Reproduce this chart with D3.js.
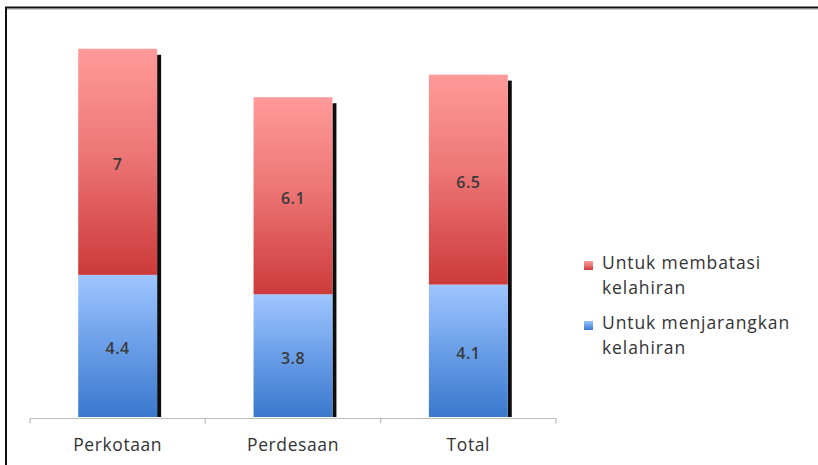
<!DOCTYPE html>
<html>
<head>
<meta charset="utf-8">
<script src="https://cdn.jsdelivr.net/npm/d3@7/dist/d3.min.js"></script>
<style>
  html, body { margin: 0; padding: 0; background: #fff; }
  svg { display: block; }
</style>
</head>
<body>
<svg id="chart" width="818" height="465"></svg>
<script>
// Alasan tidak ingin anak lagi / menunda: stacked by area
const categories = ["Perkotaan", "Perdesaan", "Total"];
const spacing = [4.4, 3.8, 4.1];   // Untuk menjarangkan kelahiran
const limiting = [7, 6.1, 6.5];    // Untuk membatasi kelahiran
const seriesNames = ["Untuk membatasi kelahiran", "Untuk menjarangkan kelahiran"];

const svg = d3.select("#chart");
const font = "'Open Sans', 'Liberation Sans', sans-serif";

// frame
svg.append("rect").attr("x", 6).attr("y", 7.5).attr("width", 830).attr("height", 480)
  .attr("fill", "none").attr("stroke", "#111").attr("stroke-width", 2);
svg.append("line").attr("x1", 7).attr("x2", 818).attr("y1", 9.5).attr("y2", 9.5)
  .attr("stroke", "#ccc").attr("stroke-width", 1);

const defs = svg.append("defs");
const gradRed = defs.append("linearGradient").attr("id", "gRed")
  .attr("x1", 0).attr("y1", 0).attr("x2", 0).attr("y2", 1);
gradRed.append("stop").attr("offset", "0%").attr("stop-color", "#ff9a9a");
gradRed.append("stop").attr("offset", "45%").attr("stop-color", "#ee7777");
gradRed.append("stop").attr("offset", "100%").attr("stop-color", "#cc3a3a");
const gradBlue = defs.append("linearGradient").attr("id", "gBlue")
  .attr("x1", 0).attr("y1", 0).attr("x2", 0).attr("y2", 1);
gradBlue.append("stop").attr("offset", "0%").attr("stop-color", "#9fc6ff");
gradBlue.append("stop").attr("offset", "50%").attr("stop-color", "#6a9ee8");
gradBlue.append("stop").attr("offset", "100%").attr("stop-color", "#3a78cc");
defs.append("filter").attr("id", "soft").append("feGaussianBlur").attr("stdDeviation", 0.6);

const x = d3.scaleBand().domain(categories).range([30, 556]).paddingInner(0.55).paddingOuter(0.275);
const y = d3.scaleLinear().domain([0, 12]).range([417, 29.4]);

const rows = categories.map((c, i) => ({ cat: c, spacing: spacing[i], limiting: limiting[i] }));
const stack = d3.stack().keys(["spacing", "limiting"])(rows);

// shadows on the right side of each bar
svg.append("g").selectAll("rect").data(rows).join("rect")
  .attr("x", d => x(d.cat) + x.bandwidth())
  .attr("y", d => y(d.spacing + d.limiting) + 6)
  .attr("width", 4)
  .attr("height", d => y(0) - y(d.spacing + d.limiting) - 6)
  .attr("fill", "#111")
  .attr("filter", "url(#soft)");

const fills = { spacing: "url(#gBlue)", limiting: "url(#gRed)" };
stack.forEach(layer => {
  svg.append("g").selectAll("rect").data(layer).join("rect")
    .attr("x", d => x(d.data.cat))
    .attr("y", d => y(d[1]))
    .attr("width", x.bandwidth())
    .attr("height", d => y(d[0]) - y(d[1]))
    .attr("fill", fills[layer.key]);
  svg.append("g").selectAll("text").data(layer).join("text")
    .attr("x", d => x(d.data.cat) + x.bandwidth() / 2)
    .attr("y", d => (y(d[0]) + y(d[1])) / 2)
    .attr("dy", "0.5em")
    .attr("text-anchor", "middle")
    .attr("font-family", font).attr("font-size", 16).attr("font-weight", 600)
    .attr("letter-spacing", 0.5)
    .attr("fill", "#3a3a3a")
    .text(d => d.data[layer.key]);
});

// x axis
const axis = svg.append("g").attr("transform", "translate(0,418.5)")
  .call(d3.axisBottom(x).tickSize(0).tickPadding(20));
axis.select(".domain").attr("stroke", "#bbb").attr("stroke-width", 1.2)
  .attr("d", "M30,0H556");
axis.selectAll(".tick text").attr("font-family", font).attr("font-size", 17.5)
  .attr("letter-spacing", 0.6).attr("fill", "#333");
const bounds = [30, 30 + 526 / 3, 30 + 2 * 526 / 3, 556];
axis.selectAll(".sep").data(bounds).join("line").attr("class", "sep")
  .attr("x1", d => d).attr("x2", d => d).attr("y1", 0).attr("y2", 5)
  .attr("stroke", "#bbb").attr("stroke-width", 1.2);

// legend
const legend = svg.append("g").attr("font-family", font).attr("font-size", 17.5)
  .attr("letter-spacing", 0.9).attr("fill", "#333");
const legendItems = [
  { name: seriesNames[0], fill: "url(#gRed)", y: 269, my: 261, lines: ["Untuk membatasi", "kelahiran"] },
  { name: seriesNames[1], fill: "url(#gBlue)", y: 329, my: 321, lines: ["Untuk menjarangkan", "kelahiran"] }
];
legendItems.forEach(it => {
  legend.append("rect").attr("x", 584).attr("y", it.my).attr("width", 9).attr("height", 9)
    .attr("fill", it.fill);
  const t = legend.append("text").attr("x", 602).attr("y", it.y);
  it.lines.forEach((l, i) => t.append("tspan").attr("x", 602).attr("dy", i === 0 ? 0 : 25).text(l));
});
</script>
</body>
</html>
